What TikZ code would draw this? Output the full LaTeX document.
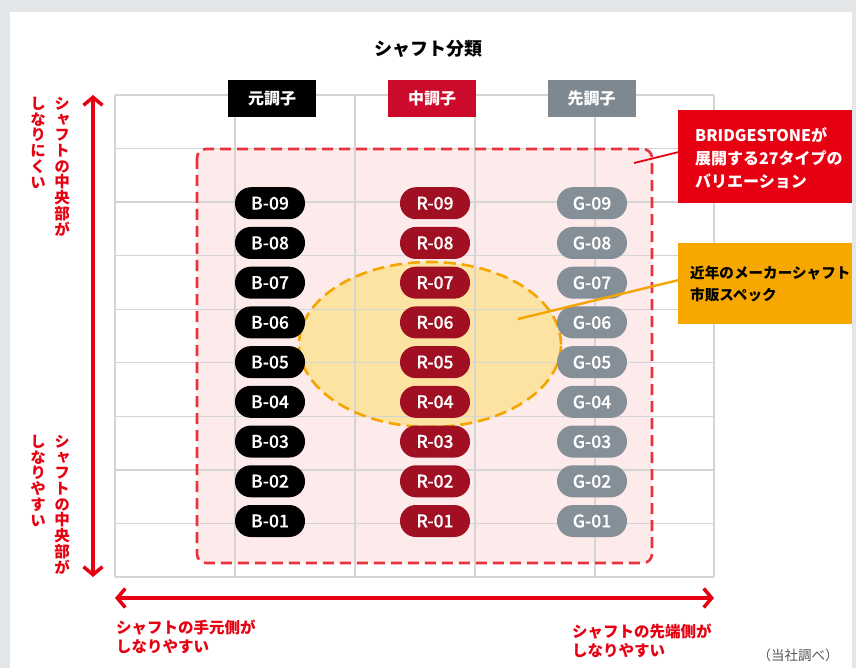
\documentclass[tikz,border=0pt]{standalone}
\usepackage{fontspec}
\setmainfont{Noto Sans CJK JP}
\newfontfamily\jpv{Noto Sans CJK JP}[RawFeature={+vert}]
\newfontfamily\pillfont{Noto Sans CJK JP Medium}[FakeBold=0.5]
\usetikzlibrary{arrows.meta,shapes.geometric,calc}
\definecolor{bggray}{HTML}{E4E7EA}
\definecolor{gridc}{HTML}{D4D4D4}
\definecolor{pinkfill}{HTML}{FDEBEC}
\definecolor{pinkline}{HTML}{E8333F}
\definecolor{orfill}{HTML}{FDE3A2}
\definecolor{orline}{HTML}{F5A500}
\definecolor{orbox}{HTML}{F6A800}
\definecolor{brandred}{HTML}{E60012}
\definecolor{hdrred}{HTML}{CC0A2C}
\definecolor{hdrgray}{HTML}{7E8890}
\definecolor{pillred}{HTML}{A00F22}
\definecolor{pillgray}{HTML}{858F98}
\definecolor{notegray}{HTML}{555555}
\tikzset{
  pill/.style={rounded corners=15.8pt, minimum width=70pt, minimum height=32pt, inner sep=0pt,
    text=white, font=\pillfont\fontsize{17.5}{19}\selectfont},
  hdr/.style={minimum width=88pt, minimum height=37pt, inner sep=0pt, text=white,
    font=\bfseries\fontsize{16}{18}\selectfont},
  gridline/.style={draw=gridc, line width=1.3pt},
  redarrow/.style={draw=brandred, line width=3.5pt,
    arrows={Straight Barb[length=8pt,width=19pt]-Straight Barb[length=8pt,width=19pt]}},
  vtext/.style={text=brandred, align=center, inner sep=0pt,
    font=\jpv\bfseries\fontsize{15.5}{15.7}\selectfont},
  htext/.style={text=brandred, align=left, inner sep=0pt,
    font=\bfseries\fontsize{15.5}{19}\selectfont},
  callbox/.style={minimum width=174pt, inner sep=0pt, anchor=north west},
  calltext/.style={align=left, inner sep=0pt, anchor=west},
}
\begin{document}
\begin{tikzpicture}[x=1pt,y=-1pt]
% background
\fill[bggray] (0,0) rectangle (856,668);
\fill[white] (10,12) rectangle (852,668);
\useasboundingbox (0,0) rectangle (856,668);

% title
\node[font=\bfseries\fontsize{18}{20}\selectfont] (title) at (428,49) {シャフト分類};

% fills under grid
\fill[pinkfill, rounded corners=9pt] (197,149) rectangle (652,563);
\fill[orfill] (430,344.5) ellipse [x radius=131, y radius=82.5];

% grid
\foreach \gx in {115,235,355,475,595,714} \draw[gridline] (\gx,95) -- (\gx,577);
\foreach \k in {0,...,9} \draw[gridline] (115,{95+\k*53.56}) -- (714,{95+\k*53.56});

% dashed outlines
\draw[pinkline, line width=2.6pt, dash pattern=on 11pt off 6pt, rounded corners=9pt]
  (197,149) rectangle (652,563);
\node[ellipse, draw=orline, line width=2.6pt, dash pattern=on 12pt off 6pt,
  minimum width=262pt, minimum height=165pt, inner sep=0pt] (mkt) at (430,344.5) {};

% column headers
\node[hdr, fill=black] (hB) at (272,98.5) {元調子};
\node[hdr, fill=hdrred] (hR) at (432,98.5) {中調子};
\node[hdr, fill=hdrgray] (hG) at (591.5,98.5) {先調子};

% pills
\foreach \i in {1,...,9} {
  \node[pill, fill=black] (B\i) at (270,{521-(\i-1)*39.72}) {B-0\i};
  \node[pill, fill=pillred] (R\i) at (435,{521-(\i-1)*39.72}) {R-0\i};
  \node[pill, fill=pillgray] (G\i) at (592,{521-(\i-1)*39.72}) {G-0\i};
}

% callouts
\node[callbox, fill=brandred, minimum height=93pt] (redcall) at (678,110) {};
\node[calltext, text=white, font=\bfseries\fontsize{16}{23}\selectfont] (redtxt)
  at ([xshift=17pt,yshift=-1.5pt]redcall.west)
  {BRIDGESTONEが\\展開する27タイプの\\バリエーション};
\coordinate (rtip) at (634,163);
\draw[brandred, line width=1.8pt] (rtip) -- ([yshift=4.5pt]redcall.west);

\node[callbox, fill=orbox, minimum height=81pt] (orcall) at (678,243) {};
\node[calltext, text=black, font=\bfseries\fontsize{14.6}{22}\selectfont] (ortxt)
  at ([xshift=12pt,yshift=-0.5pt]orcall.west)
  {近年のメーカーシャフト\\市販スペック};
\coordinate (otip) at (518,319);
\draw[orline, line width=2.4pt] (otip) -- ([yshift=3.5pt]orcall.west);

% axes arrows
\coordinate (vtop) at (93,95);
\coordinate (vbot) at (93,577);
\draw[redarrow] (vtop) -- (vbot);
\coordinate (hleft) at (115,598);
\coordinate (hright) at (714,598);
\draw[redarrow] (hleft) -- (hright);

% vertical labels
\node[vtext, anchor=north] (v1a) at (62,97) {シ\\ャ\\フ\\ト\\の\\中\\央\\部\\が};
\node[vtext, anchor=north] (v1b) at (38,97) {し\\な\\り\\に\\く\\い};
\node[vtext, anchor=north] (v2a) at (62,435) {シ\\ャ\\フ\\ト\\の\\中\\央\\部\\が};
\node[vtext, anchor=north] (v2b) at (38,435) {し\\な\\り\\や\\す\\い};

% horizontal labels
\node[htext, anchor=west] (hl) at (116,636.5) {シャフトの手元側が\\しなりやすい};
\node[htext, anchor=west] (hr) at (572,640.5) {シャフトの先端側が\\しなりやすい};

% note
\node[text=notegray, inner sep=0pt, font=\fontsize{13.5}{15}\selectfont] (note) at (798,655) {（当社調べ）};
\end{tikzpicture}
\end{document}
